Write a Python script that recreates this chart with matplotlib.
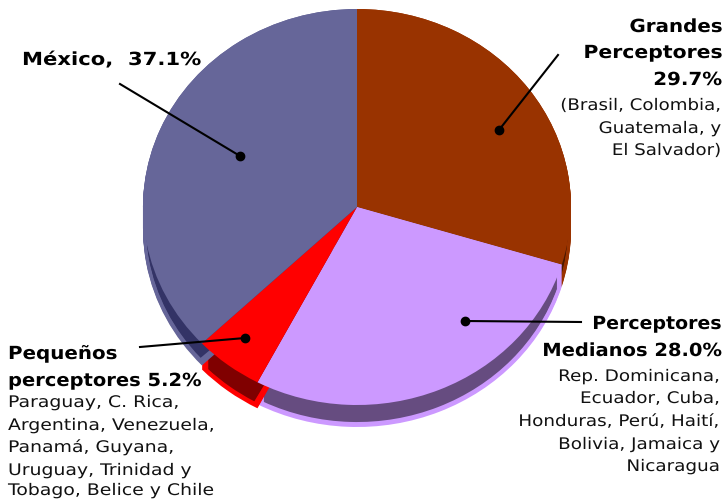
import matplotlib
matplotlib.use("Agg")
import matplotlib.pyplot as plt
from matplotlib.patheffects import AbstractPathEffect
from matplotlib.transforms import Affine2D

WIDTH, HEIGHT = 726, 499
# pie centre and radii in pixels (the pie is a squashed ellipse)
CX, CY = 357, 207
RX, RY = 214, 198

shares = [29.7, 28.0, 5.2, 37.1]
top_colors = ["#993300", "#CC99FF", "#FF0000", "#666699"]
dark_colors = ["#4D1900", "#664C80", "#800000", "#333366"]
wall_depth = [23, 23, 27, 23]

# text, x, baseline y, alignment, horizontal stretch
bold_labels = [
    ("Grandes", 722, 32, "right", 1.1),
    ("Perceptores", 722, 58, "right", 1.13),
    ("29.7%", 722, 85, "right", 1.1),
    ("Perceptores", 721, 329, "right", 1.05),
    ("Medianos 28.0%", 721, 356, "right", 1.08),
    ("Pequeños", 8, 359, "left", 1.1),
    ("perceptores 5.2%", 8, 386, "left", 1.08),
    ("México,  37.1%", 22, 65, "left", 1.17),
]
plain_labels = [
    ("(Brasil, Colombia,", 722, 110, "right", 1.14),
    ("Guatemala, y", 722, 133, "right", 1.14),
    ("El Salvador)", 722, 155, "right", 1.14),
    ("Rep. Dominicana,", 721, 381, "right", 1.15),
    ("Ecuador, Cuba,", 721, 403, "right", 1.15),
    ("Honduras, Perú, Haití,", 721, 426, "right", 1.15),
    ("Bolivia, Jamaica y", 721, 449, "right", 1.15),
    ("Nicaragua", 721, 471, "right", 1.15),
    ("Paraguay, C. Rica,", 8, 407, "left", 1.18),
    ("Argentina, Venezuela,", 8, 430, "left", 1.18),
    ("Panamá, Guyana,", 8, 452, "left", 1.18),
    ("Uruguay, Trinidad y", 8, 475, "left", 1.18),
    ("Tobago, Belice y Chile", 8, 495, "left", 1.18),
]
# leader lines: label end, then dot end
leaders = [
    ((558, 55), (499, 130)),
    ((581, 322), (465, 321)),
    ((140, 347), (245, 338)),
    ((120, 84), (240, 156)),
]


class StretchX(AbstractPathEffect):
    # the reference font is wider than DejaVu, widen the glyphs around the anchor
    def __init__(self, anchor, scale):
        super().__init__()
        self.stretch = Affine2D().translate(-anchor, 0).scale(scale, 1).translate(anchor, 0)

    def draw_path(self, renderer, gc, tpath, affine, rgbFace=None):
        renderer.draw_path(gc, tpath, affine + self.stretch, rgbFace)


def px(x, y):
    return (x - CX) / RX, (CY - y) / RY


fig = plt.figure(figsize=(WIDTH / 100, HEIGHT / 100), dpi=100)
ax = fig.add_axes([0, 0, 1, 1])

start = 0.0
for share, color, dark, depth in zip(shares, top_colors, dark_colors, wall_depth):
    frac = share / 100
    angle = 90 - 360 * start
    # side wall: same wedge stacked downwards
    for d in range(depth):
        ax.pie([frac], colors=[color], startangle=angle, counterclock=False,
               normalize=False, center=(0, -d / RY), wedgeprops={"linewidth": 0})
    # darker band set inside the wall
    gap = 0.004
    for d in range(3, depth - 2):
        ax.pie([frac - 2 * gap], colors=[dark], startangle=angle - 360 * gap,
               counterclock=False, normalize=False, radius=0.985,
               center=(0, -d / RY), wedgeprops={"linewidth": 0})
    start += frac

ax.pie(shares, colors=top_colors, startangle=90, counterclock=False,
       wedgeprops={"linewidth": 0})

ax.set_aspect("auto")
ax.set_xlim(-CX / RX, (WIDTH - CX) / RX)
ax.set_ylim((CY - HEIGHT) / RY, CY / RY)
ax.axis("off")

for a, b in leaders:
    (x0, y0), (x1, y1) = px(*a), px(*b)
    ax.plot([x0, x1], [y0, y1], color="black", lw=1.5, zorder=5)
    ax.plot([x1], [y1], "o", color="black", ms=6, zorder=6)

for text, x, y, ha, scale in bold_labels:
    tx, ty = px(x, y)
    ax.text(tx, ty, text, ha=ha, va="baseline", fontsize=13, fontweight="bold",
            family="DejaVu Sans", color="black", zorder=7,
            path_effects=[StretchX(x, scale)])
for text, x, y, ha, scale in plain_labels:
    tx, ty = px(x, y)
    ax.text(tx, ty, text, ha=ha, va="baseline", fontsize=11.5, family="DejaVu Sans",
            color="#111111", zorder=7, path_effects=[StretchX(x, scale)])

fig.savefig("out.png", dpi=100)
